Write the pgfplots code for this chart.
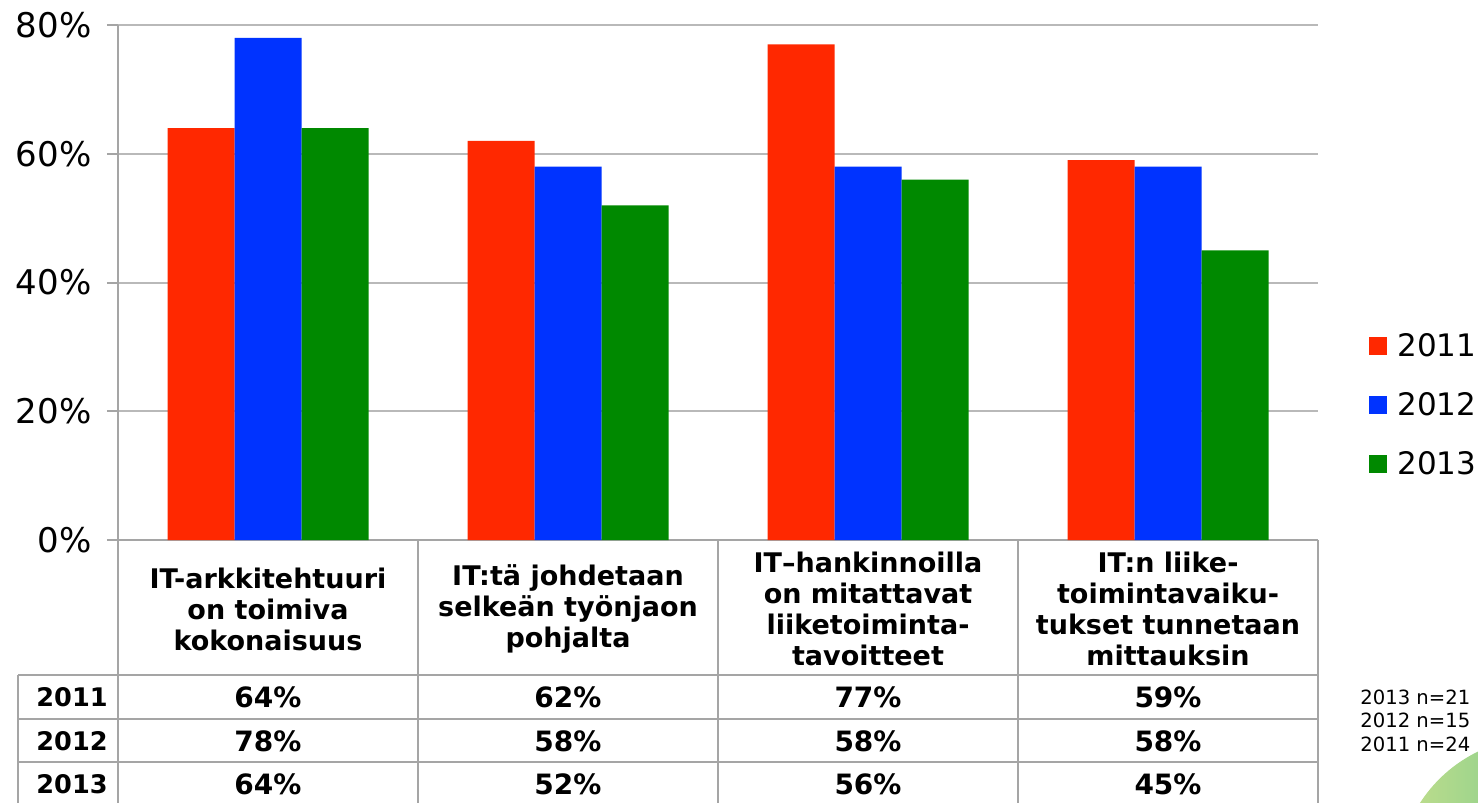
\documentclass[border=0pt]{standalone}
\usepackage{fontspec}
\setmainfont{DejaVu Sans}
\usepackage{pgfplots}
\pgfplotsset{compat=1.18}
\definecolor{cred}{RGB}{255,40,0}
\definecolor{cblue}{RGB}{0,51,255}
\definecolor{cgreen}{RGB}{0,137,0}
\definecolor{gridc}{RGB}{185,185,185}
\definecolor{linec}{RGB}{165,165,165}
\pgfplotsset{sqlegend/.style={legend image code/.code={\fill[##1] (0pt,-4.5pt) rectangle (9pt,4.5pt);}}}
\begin{document}
\begin{tikzpicture}
\path[use as bounding box] (0,0) rectangle (739pt,-401.5pt);
\shade[left color={rgb,255:red,195;green,222;blue,140}, right color={rgb,255:red,70;green,190;blue,140}] (770pt,-440pt) circle (71.3pt);
\begin{axis}[
  at={(59pt,-270pt)}, anchor=south west,
  width=600pt, height=257.5pt, scale only axis,
  xmin=-0.5, xmax=3.5, ymin=0, ymax=80,
  ybar=0pt, bar width=33.5pt,
  axis x line*=bottom, axis y line*=left,
  axis line style={linec, line width=1pt},
  ytick={0,20,40,60,80},
  ymajorgrids, grid style={gridc, line width=1pt},
  /pgf/number format/assume math mode=true,
  yticklabel={\pgfmathprintnumber{\tick}\%},
  yticklabel style={font=\fontsize{17}{19}\selectfont, xshift=-4.2pt},
  tick align=outside, major tick length=5.5pt,
  tick style={linec, line width=1pt},
  xtick={0,1,2,3},
  xtick style={draw=none},
  xticklabels={{IT-arkkitehtuuri\\on toimiva\\kokonaisuus},{IT:tä johdetaan\\selkeän työnjaon\\pohjalta},{IT–hankinnoilla\\on mitattavat\\liiketoiminta-\\tavoitteet},{IT:n liike-\\toimintavaiku-\\tukset tunnetaan\\mittauksin}},
  xticklabel style={font=\bfseries\fontsize{13.5}{15.5}\selectfont, align=center, anchor=center, yshift=-29pt},
  legend style={draw=none, fill=none, at={(1.0375,0.418)}, anchor=north west, font=\fontsize{15.5}{18}\selectfont, row sep=12.5pt, /tikz/every odd column/.append style={column sep=3pt}},
  legend cell align=left,
  clip=false,
]
\addplot[fill=cred, draw=none, sqlegend] coordinates {(0,64) (1,62) (2,77) (3,59)};
\addplot[fill=cblue, draw=none, sqlegend] coordinates {(0,78) (1,58) (2,58) (3,58)};
\addplot[fill=cgreen, draw=none, sqlegend] coordinates {(0,64) (1,52) (2,56) (3,45)};
\legend{2011,2012,2013}
\end{axis}
\begin{scope}[linec, line width=1pt]
\draw (9pt,-337.5pt) -- (659pt,-337.5pt);
\draw (9pt,-359.5pt) -- (659pt,-359.5pt);
\draw (9pt,-381pt) -- (659pt,-381pt);
\foreach \x in {59,209,359,509,659} \draw (\x pt,-270pt) -- (\x pt,-405pt);
\draw (9pt,-337.5pt) -- (9pt,-405pt);
\end{scope}
\begin{scope}[every node/.style={font=\bfseries\fontsize{14}{16}\selectfont, inner sep=0pt}]
\node at (36pt,-348.5pt) {\fontsize{12.8}{15}\selectfont 2011};
\node at (36pt,-370.5pt) {\fontsize{12.8}{15}\selectfont 2012};
\node at (36pt,-392pt) {\fontsize{12.8}{15}\selectfont 2013};
\node at (134pt,-348.5pt) {64\%}; \node at (284pt,-348.5pt) {62\%}; \node at (434pt,-348.5pt) {77\%}; \node at (584pt,-348.5pt) {59\%};
\node at (134pt,-370.5pt) {78\%}; \node at (284pt,-370.5pt) {58\%}; \node at (434pt,-370.5pt) {58\%}; \node at (584pt,-370.5pt) {58\%};
\node at (134pt,-392pt) {64\%}; \node at (284pt,-392pt) {52\%}; \node at (434pt,-392pt) {56\%}; \node at (584pt,-392pt) {45\%};
\end{scope}
\begin{scope}[every node/.style={font=\fontsize{9.8}{12}\selectfont, inner sep=0pt, anchor=west}]
\node at (680pt,-348.5pt) {2013 n=21};
\node at (680pt,-360pt) {2012 n=15};
\node at (680pt,-372pt) {2011 n=24};
\end{scope}
\end{tikzpicture}
\end{document}
